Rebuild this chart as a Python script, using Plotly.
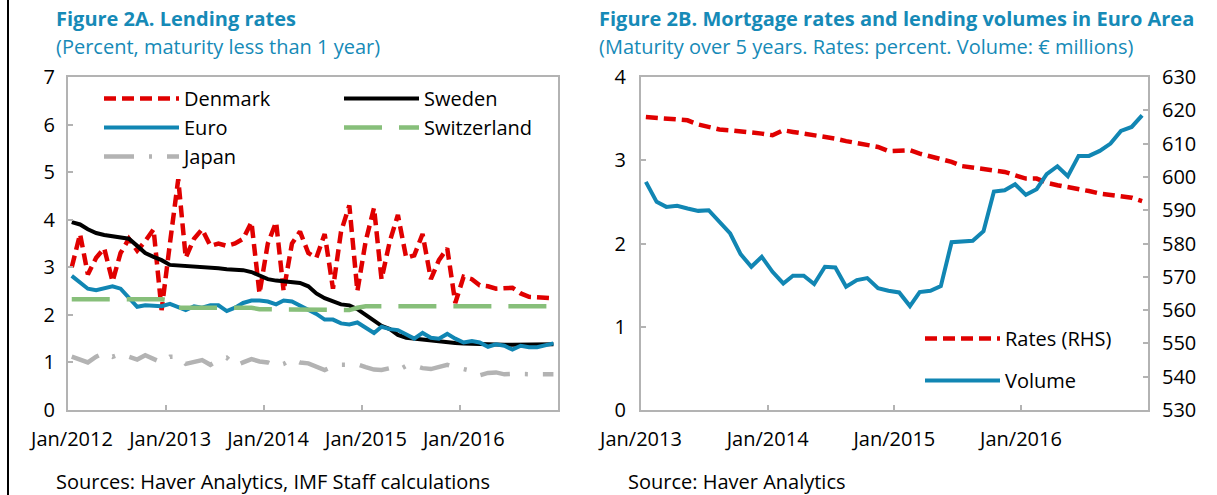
import pandas as pd
import plotly.graph_objects as go

# ---------------- Data: Figure 2A (monthly, Jan 2012 - Dec 2016) ----------------
months_a = pd.date_range("2012-01-01", periods=60, freq="MS") + pd.Timedelta(days=14)

denmark = [3.0, 3.7, 2.85, 3.2, 3.4, 2.7, 3.3, 3.6, 3.35, 3.55, 3.8, 2.1,
           3.5, 4.85, 3.2, 3.6, 3.8, 3.45, 3.5, 3.45, 3.5, 3.6, 3.95, 2.45,
           3.5, 3.95, 2.5, 3.5, 3.75, 3.3, 3.2, 3.7, 2.55, 3.75, 4.3, 2.5,
           3.55, 4.25, 2.75, 3.55, 4.1, 3.2, 3.25, 3.7, 2.75, 3.15, 3.4, 2.25,
           2.8, 2.75, 2.62, 2.6, 2.55, 2.55, 2.57, 2.45, 2.38, 2.37, 2.37, 2.35]
sweden = [3.95, 3.9, 3.8, 3.72, 3.68, 3.65, 3.63, 3.6, 3.45, 3.3, 3.22, 3.15,
          3.05, 3.04, 3.02, 3.01, 3.0, 2.99, 2.98, 2.96, 2.95, 2.94, 2.9, 2.82,
          2.75, 2.72, 2.7, 2.68, 2.67, 2.6, 2.45, 2.35, 2.28, 2.22, 2.2, 2.12,
          2.0, 1.87, 1.77, 1.7, 1.58, 1.52, 1.5, 1.48, 1.45, 1.43, 1.42, 1.41,
          1.4, 1.39, 1.39, 1.38, 1.38, 1.37, 1.37, 1.37, 1.37, 1.37, 1.38, 1.38]
euro = [2.82, 2.68, 2.55, 2.52, 2.55, 2.6, 2.55, 2.35, 2.17, 2.2, 2.2, 2.18,
        2.23, 2.15, 2.1, 2.18, 2.15, 2.2, 2.2, 2.08, 2.15, 2.25, 2.3, 2.3,
        2.28, 2.22, 2.3, 2.28, 2.2, 2.12, 2.02, 1.9, 1.9, 1.82, 1.8, 1.84,
        1.72, 1.62, 1.75, 1.7, 1.68, 1.6, 1.5, 1.62, 1.52, 1.5, 1.6, 1.5,
        1.42, 1.45, 1.42, 1.33, 1.38, 1.35, 1.27, 1.35, 1.32, 1.32, 1.35, 1.4]
switzerland = [2.33] * 12 + [2.3] + [2.15] * 10 + [2.12] * 3 + [2.1] * 9 + [2.15] + [2.18] * 24
japan = [1.12, 1.05, 1.0, 1.12, 1.2, 1.12, 1.18, 1.12, 1.06, 1.15, 1.08, 1.0,
         1.12, 1.12, 0.97, 1.0, 1.05, 0.95, 1.05, 1.1, 0.93, 1.0, 1.07, 1.02,
         1.0, 0.92, 0.97, 1.07, 1.0, 0.98, 0.9, 0.84, 0.92, 0.95, 0.95, 0.96,
         0.9, 0.85, 0.84, 0.88, 0.83, 0.93, 0.93, 0.88, 0.86, 0.9, 0.95, 0.9,
         0.86, 0.82, 0.73, 0.78, 0.79, 0.75, 0.76, 0.75, 0.75, 0.75, 0.75, 0.75]

tickvals_a = ["2012-01-01", "2013-01-01", "2014-01-01", "2015-01-01", "2016-01-01"]
ticktext_a = ["Jan/2012", "Jan/2013", "Jan/2014", "Jan/2015", "Jan/2016"]

# ---------------- Data: Figure 2B (monthly, Jan 2013 - Dec 2016) ----------------
months_b = pd.date_range("2013-01-01", periods=48, freq="MS") + pd.Timedelta(days=14)

rates = [3.52, 3.51, 3.49, 3.49, 3.48, 3.43, 3.40, 3.37, 3.36, 3.35, 3.33, 3.32,
         3.30, 3.36, 3.34, 3.32, 3.30, 3.29, 3.26, 3.23, 3.21, 3.19, 3.16, 3.11,
         3.11, 3.12, 3.08, 3.05, 3.02, 2.98, 2.93, 2.91, 2.89, 2.88, 2.86, 2.82,
         2.78, 2.78, 2.73, 2.70, 2.68, 2.66, 2.63, 2.60, 2.58, 2.57, 2.55, 2.51]
volume = [598.5, 592.5, 591.0, 591.3, 590.5, 589.8, 590.0, 586.5, 583.0, 576.8, 573.0, 576.0,
          571.5, 568.0, 570.3, 570.3, 567.8, 573.0, 572.8, 567.0, 569.0, 569.6, 566.6, 565.8,
          565.3, 561.2, 565.4, 565.8, 567.2, 580.4, 580.6, 580.8, 583.7, 595.6, 596.0, 597.8,
          594.6, 596.3, 600.8, 603.2, 600.2, 606.3, 606.3, 607.8, 610.0, 613.8, 615.0, 618.5]

tickvals_b = ["2013-01-01", "2014-01-01", "2015-01-01", "2016-01-01"]
ticktext_b = ["Jan/2013", "Jan/2014", "Jan/2015", "Jan/2016"]

# ---------------- Styles ----------------
FONT = "Open Sans"
FS = 20
RED = "#e00000"
BLACK = "#000000"
BLUE = "#1186b3"
GREEN = "#87bf7a"
GRAY = "#b3b3b3"
TITLE = "#168ab7"
AXIS = "#b3b3b3"

fig = go.Figure()

def add_line(x, y, name, line, xa, ya, legend):
    fig.add_trace(go.Scatter(x=x, y=y, name=name, mode="lines", line=line,
                             xaxis=xa, yaxis=ya, legend=legend, legendgroup=name))

add_line(months_a, denmark, "Denmark", dict(color=RED, width=4.5, dash="12px,6px"), "x", "y", "legend")
add_line(months_a, sweden, "Sweden", dict(color=BLACK, width=4), "x", "y", "legend2")
add_line(months_a, euro, "Euro", dict(color=BLUE, width=4), "x", "y", "legend")
add_line(months_a, switzerland, "Switzerland", dict(color=GREEN, width=4.5, dash="38px,17px"), "x", "y", "legend2")
add_line(months_a, japan, "Japan", dict(color=GRAY, width=4.5, dash="30px,15px,3px,15px"), "x", "y", "legend")
add_line(months_b, rates, "Rates (RHS)", dict(color=RED, width=4.5, dash="12px,6px"), "x2", "y2", "legend3")
add_line(months_b, volume, "Volume", dict(color=BLUE, width=4), "x2", "y3", "legend3")

W, H = 1217, 495

def px_x(p):
    return p / W

def px_y(p):
    return 1 - p / H

tickfont = dict(family=FONT, size=FS, color="#000")
common_axis = dict(showline=True, linecolor=AXIS, linewidth=2, ticks="inside",
                   ticklen=5, tickwidth=2, tickcolor=AXIS, showgrid=False,
                   zeroline=False, tickfont=tickfont, automargin=False)

legend_common = dict(orientation="v", xanchor="left", yanchor="top",
                     bgcolor="rgba(0,0,0,0)", font=dict(family=FONT, size=FS, color="#000"),
                     itemwidth=75, itemclick=False)

fig.update_layout(
    width=W, height=H,
    margin=dict(l=0, r=0, t=0, b=0, autoexpand=False),
    paper_bgcolor="white", plot_bgcolor="white",
    font=dict(family=FONT, size=FS, color="#000"),
    xaxis=dict(domain=[px_x(68), px_x(558)], anchor="y", type="date",
               range=["2012-01-01", "2017-01-01"], tickvals=tickvals_a, ticktext=ticktext_a,
               mirror=True, ticklabelstandoff=10, ticklabelshift=4, **common_axis),
    yaxis=dict(domain=[px_y(410), px_y(77)], anchor="x", range=[0, 7], dtick=1,
               mirror=True, ticklabelstandoff=7, **common_axis),
    xaxis2=dict(domain=[px_x(641), px_x(1148)], anchor="y2", type="date",
                range=["2013-01-01", "2017-01-01"], tickvals=tickvals_b, ticktext=ticktext_b,
                mirror=True, ticklabelstandoff=10, **common_axis),
    yaxis2=dict(domain=[px_y(410), px_y(77)], anchor="x2", range=[0, 4], dtick=1,
                ticklabelstandoff=9, **common_axis),
    yaxis3=dict(overlaying="y2", side="right", anchor="x2", range=[530, 630], dtick=10,
                ticklabelstandoff=8, **common_axis),
    legend=dict(x=px_x(99), y=px_y(79), tracegroupgap=0, **legend_common),
    legend2=dict(x=px_x(339), y=px_y(79), tracegroupgap=0, **legend_common),
    legend3=dict(x=px_x(920), y=px_y(319), tracegroupgap=13, **legend_common),
    showlegend=True,
)

def text(s, x, y, color, bold=False):
    fig.add_annotation(text=f"<b>{s}</b>" if bold else s, xref="paper", yref="paper",
                       x=px_x(x), y=px_y(y), xanchor="left", yanchor="middle", showarrow=False,
                       font=dict(family=FONT, size=FS, color=color))

text("Figure 2A. Lending rates", 54, 18, TITLE, bold=True)
text("(Percent, maturity less than 1 year)", 54, 46, TITLE)
text("Figure 2B. Mortgage rates and lending volumes in Euro Area", 597, 18, TITLE, bold=True)
text("(Maturity over 5 years. Rates: percent. Volume: € millions)", 597, 46, TITLE)
text("Sources: Haver Analytics, IMF Staff calculations", 54, 481, "#000")
text("Source: Haver Analytics", 626, 481, "#000")

fig.add_shape(type="line", xref="paper", yref="paper", x0=px_x(8), x1=px_x(8), y0=0, y1=1,
              line=dict(color="#000", width=2))

# remove the browser's default 8px body margin so the figure fills the window exactly
fig.write_html("out.html", config={"displayModeBar": False},
               post_script="document.body.style.margin='0px';")
